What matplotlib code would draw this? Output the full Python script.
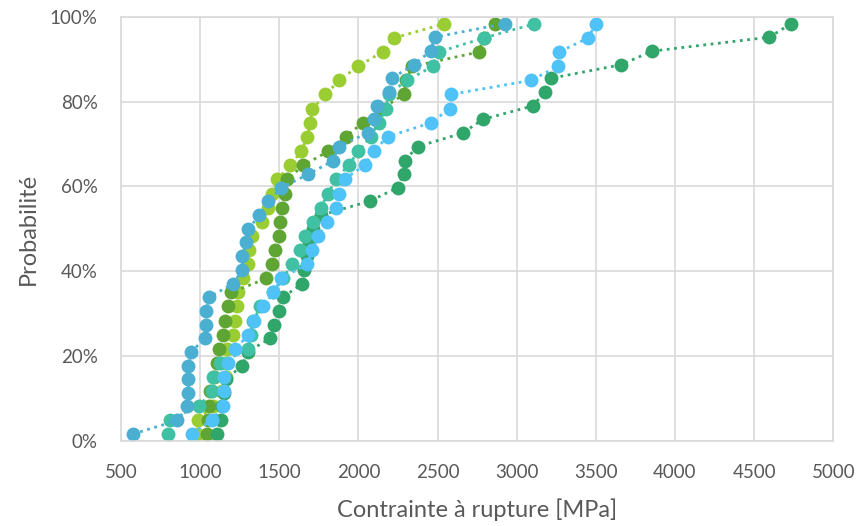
import matplotlib.pyplot as plt
from matplotlib.ticker import PercentFormatter

# probability levels (30 and 31 specimens)
prob_30 = [1.7, 5.0, 8.3, 11.7, 15.0, 18.3, 21.7, 25.0, 28.3, 31.7, 35.0, 38.3, 41.7, 45.0, 48.3,
           51.7, 55.0, 58.3, 61.7, 65.0, 68.3, 71.7, 75.0, 78.3, 81.7, 85.0, 88.3, 91.7, 95.0, 98.3]
prob_31 = [1.6, 4.8, 8.1, 11.3, 14.5, 17.7, 21.0, 24.2, 27.4, 30.6, 33.9, 37.1, 40.3, 43.5, 46.8, 50.0,
           53.2, 56.5, 59.7, 62.9, 66.1, 69.4, 72.6, 75.8, 79.0, 82.3, 85.5, 88.7, 91.9, 95.2, 98.4]

# stress at rupture (MPa) for each series
yellow_green = [981, 987, 1080, 1140, 1160, 1165, 1171, 1209, 1222, 1234, 1241, 1272, 1304, 1310, 1329,
                1393, 1430, 1456, 1487, 1570, 1639, 1677, 1696, 1709, 1791, 1880, 1994, 2152, 2222, 2538]
olive = [1040, 1050, 1057, 1063, 1090, 1108, 1120, 1146, 1158, 1177, 1196, 1418, 1456, 1475, 1500,
         1506, 1519, 1538, 1551, 1652, 1810, 1918, 2026, 2150, 2285, 2300, 2340, 2760, 2790, 2861]
dark_green = [1108, 1130, 1140, 1150, 1160, 1266, 1300, 1443, 1468, 1500, 1525, 1646, 1658, 1675, 1690,
              1715, 1760, 2070, 2247, 2285, 2291, 2374, 2659, 2785, 3102, 3178, 3216, 3659, 3855, 4596, 4735]
teal = [798, 810, 994, 1076, 1082, 1127, 1304, 1320, 1335, 1380, 1462, 1520, 1582, 1633, 1665,
        1715, 1760, 1810, 1855, 1937, 2000, 2076, 2127, 2171, 2190, 2304, 2469, 2506, 2791, 3108]
light_blue = [949, 1076, 1146, 1152, 1152, 1177, 1222, 1304, 1342, 1399, 1462, 1513, 1677, 1709, 1747,
              1804, 1861, 1874, 1912, 2038, 2095, 2184, 2456, 2576, 2583, 3089, 3260, 3266, 3450, 3500]
steel_blue = [576, 855, 918, 924, 924, 924, 943, 1032, 1038, 1038, 1057, 1209, 1266, 1266, 1291, 1304,
              1374, 1430, 1513, 1684, 1842, 1874, 2057, 2095, 2120, 2190, 2210, 2348, 2456, 2481, 2925]

series = [
    (yellow_green, prob_30, "#9ACD32"),
    (olive, prob_30, "#5FA533"),
    (dark_green, prob_31, "#31A66B"),
    (teal, prob_30, "#40C1A3"),
    (light_blue, prob_30, "#4FC3F7"),
    (steel_blue, prob_31, "#4AAFD0"),
]

plt.rcParams['font.family'] = ['Lato', 'DejaVu Sans']

fig = plt.figure(figsize=(8.59, 5.26), dpi=100)
ax = fig.add_axes([0.141, 0.162, 0.829, 0.806])

for x, p, c in series:
    ax.plot(x, [v / 100 for v in p], linestyle=":", linewidth=2, color=c,
            marker="o", markersize=10, markeredgewidth=0)

ax.set_xlim(500, 5000)
ax.set_ylim(0, 1)
ax.set_xticks(range(500, 5001, 500))
ax.set_yticks([0, 0.2, 0.4, 0.6, 0.8, 1.0])
ax.yaxis.set_major_formatter(PercentFormatter(1.0, decimals=0))
ax.grid(True, color="#D9D9D9", linewidth=1.2)
ax.set_axisbelow(True)
for s in ax.spines.values():
    s.set_color("#D9D9D9")
    s.set_linewidth(1.2)
ax.tick_params(axis="x", length=0, labelsize=13.5, colors="#595959", pad=17)
ax.tick_params(axis="y", length=0, labelsize=13.5, colors="#595959", pad=17)
ax.set_xlabel("Contrainte à rupture [MPa]", fontsize=17, color="#595959", labelpad=12)
ax.set_ylabel("Probabilité", fontsize=17, color="#595959", labelpad=8)

fig.savefig("out.png", dpi=100)
